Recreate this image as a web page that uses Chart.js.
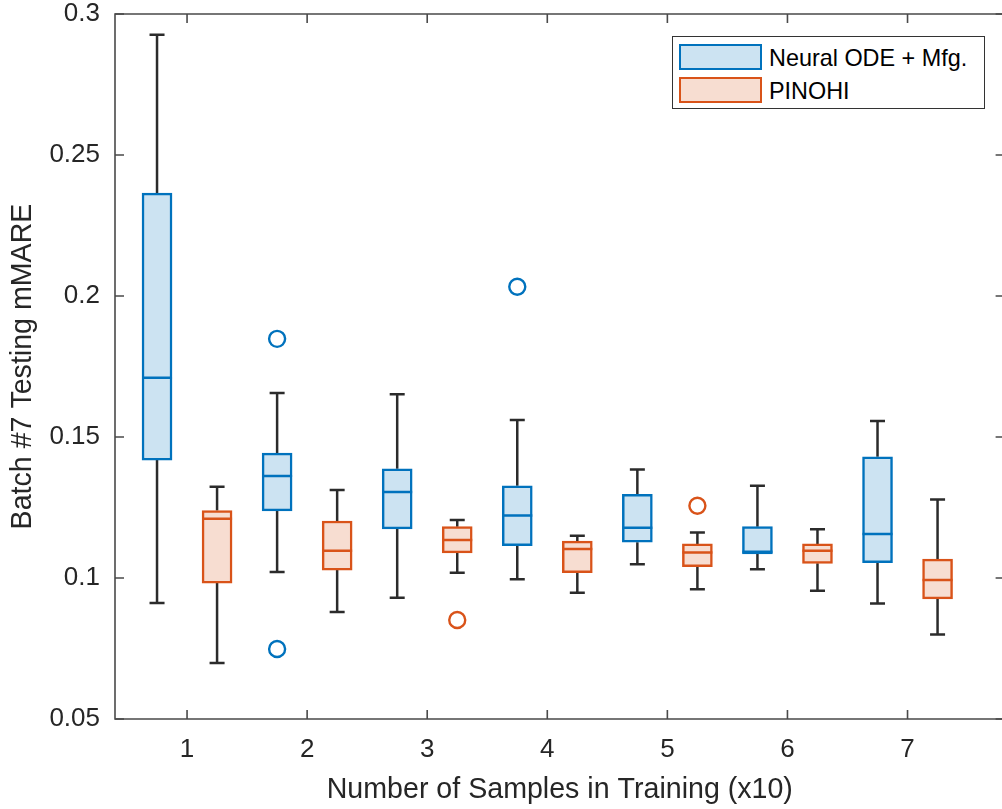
<!DOCTYPE html>
<html>
<head>
<meta charset="utf-8">
<script src="https://cdn.jsdelivr.net/npm/chart.js@4.4.1/dist/chart.umd.min.js"></script>
<style>
  html, body { margin: 0; padding: 0; background: #fff; overflow: hidden; }
  #wrap { position: relative; width: 1015px; height: 809px; }
  #legend {
    position: absolute; left: 672px; top: 36px; width: 313px; height: 73px;
    box-sizing: border-box; border: 1.5px solid #333; background: #fff;
    font-family: "Liberation Sans", Arial, sans-serif; font-size: 23.4px; color: #000;
  }
  .sw { position: absolute; left: 6px; width: 83px; height: 26px; box-sizing: border-box; border: 2px solid; }
  .lt { position: absolute; left: 96px; height: 26px; line-height: 26px; white-space: nowrap; }
</style>
</head>
<body>
<div id="wrap">
  <canvas id="c" width="1015" height="809"></canvas>
  <div id="legend">
    <div class="sw" style="top:7px;border-color:#0072BD;background:#CCE3F2"></div>
    <div class="lt" style="top:8px">Neural ODE + Mfg.</div>
    <div class="sw" style="top:40px;border-color:#D95319;background:#F7DDD1"></div>
    <div class="lt" style="top:41px">PINOHI</div>
  </div>
</div>
<script>
// ---------- data ----------
const groups = [1, 2, 3, 4, 5, 6, 7];
const xTickLabels = ['1', '2', '3', '4', '5', '6', '7'];
const yTicks = [0.05, 0.1, 0.15, 0.2, 0.25, 0.3];

const seriesNames = ['Neural ODE + Mfg.', 'PINOHI'];

// Neural ODE + Mfg.
const neuralLow  = [0.0911, 0.1021, 0.0930, 0.0996, 0.1049, 0.1031, 0.0910];
const neuralQ1   = [0.1418, 0.1238, 0.1174, 0.1115, 0.1127, 0.1085, 0.1054];
const neuralMed  = [0.1710, 0.1362, 0.1305, 0.1222, 0.1178, 0.1093, 0.1156];
const neuralQ3   = [0.2365, 0.1443, 0.1387, 0.1327, 0.1297, 0.1182, 0.1430];
const neuralHigh = [0.2926, 0.1656, 0.1652, 0.1560, 0.1385, 0.1327, 0.1557];
const neuralOutliers = [[], [0.1848, 0.0748], [], [0.2033], [], [], []];

// PINOHI
const pinohiLow  = [0.0699, 0.0879, 0.1019, 0.0948, 0.0960, 0.0955, 0.0800];
const pinohiQ1   = [0.0982, 0.1028, 0.1089, 0.1019, 0.1040, 0.1052, 0.0926];
const pinohiMed  = [0.1210, 0.1097, 0.1135, 0.1103, 0.1090, 0.1097, 0.0993];
const pinohiQ3   = [0.1239, 0.1202, 0.1182, 0.1131, 0.1121, 0.1121, 0.1067];
const pinohiHigh = [0.1324, 0.1312, 0.1206, 0.1150, 0.1161, 0.1173, 0.1278];
const pinohiOutliers = [[], [], [0.0851], [], [0.1256], [], []];

// ---------- layout / style constants ----------
const OFFSET = 0.25;       // group offset of each series
const HALF_BOX = 0.125;    // half box width (x units)
const CAP = 0.0625;        // half whisker cap width (x units)
const BLUE = '#0072BD', BLUE_F = '#CCE3F2';
const ORANGE = '#D95319', ORANGE_F = '#F7DDD1';
const WHISK = '#2b2b2b';
const AXIS = '#4a4a4a';
const TXT = '#262626';
const FONT = '"Liberation Sans", Arial, sans-serif';

function boxes(q1, q3, off) {
  return groups.map((g, i) => ({ x: g + off, y: [q1[i], q3[i]] }));
}
function medians(med, off) {
  const d = [];
  groups.forEach((g, i) => {
    d.push({ x: g + off - HALF_BOX, y: med[i] }, { x: g + off + HALF_BOX, y: med[i] }, { x: g + off, y: null });
  });
  return d;
}
function whiskers(lo, q1, q3, hi, off) {
  const d = [];
  groups.forEach((g, i) => {
    const x = g + off;
    d.push({ x, y: lo[i] }, { x, y: q1[i] }, { x, y: null });
    d.push({ x, y: q3[i] }, { x, y: hi[i] }, { x, y: null });
    d.push({ x: x - CAP, y: lo[i] }, { x: x + CAP, y: lo[i] }, { x, y: null });
    d.push({ x: x - CAP, y: hi[i] }, { x: x + CAP, y: hi[i] }, { x, y: null });
  });
  return d;
}
function outliers(out, off) {
  const d = [];
  groups.forEach((g, i) => out[i].forEach(v => d.push({ x: g + off, y: v })));
  return d;
}

const lineDs = (label, data, color, width, order) => ({
  type: 'scatter', label, data, showLine: true, spanGaps: false,
  borderColor: color, borderWidth: width, pointRadius: 0, pointHoverRadius: 0, order
});

const datasets = [
  lineDs('w1', whiskers(neuralLow, neuralQ1, neuralQ3, neuralHigh, -OFFSET), WHISK, 2.5, 5),
  lineDs('w2', whiskers(pinohiLow, pinohiQ1, pinohiQ3, pinohiHigh, OFFSET), WHISK, 2.5, 5),
  { type: 'bar', label: seriesNames[0], data: boxes(neuralQ1, neuralQ3, -OFFSET),
    backgroundColor: BLUE_F, borderColor: BLUE, borderWidth: 2.5, borderSkipped: false, barThickness: 30, grouped: false, order: 4 },
  { type: 'bar', label: seriesNames[1], data: boxes(pinohiQ1, pinohiQ3, OFFSET),
    backgroundColor: ORANGE_F, borderColor: ORANGE, borderWidth: 2.5, borderSkipped: false, barThickness: 30, grouped: false, order: 4 },
  lineDs('m1', medians(neuralMed, -OFFSET), BLUE, 2.5, 3),
  lineDs('m2', medians(pinohiMed, OFFSET), ORANGE, 2.5, 3),
  { type: 'scatter', label: 'o1', data: outliers(neuralOutliers, -OFFSET), showLine: false,
    pointRadius: 8, pointBorderWidth: 2.4, pointBorderColor: BLUE, pointBackgroundColor: 'rgba(0,0,0,0)', order: 1 },
  { type: 'scatter', label: 'o2', data: outliers(pinohiOutliers, OFFSET), showLine: false,
    pointRadius: 8, pointBorderWidth: 2.4, pointBorderColor: ORANGE, pointBackgroundColor: 'rgba(0,0,0,0)', order: 1 }
];

// frame + inward ticks on all four sides
const framePlugin = {
  id: 'frame',
  afterDraw(chart) {
    const { ctx, chartArea: a, scales: { x, y } } = chart;
    const TL = 9;
    ctx.save();
    ctx.strokeStyle = AXIS;
    ctx.lineWidth = 1.6;
    ctx.beginPath();
    ctx.rect(a.left, a.top, a.right - a.left, a.bottom - a.top);
    ctx.stroke();
    ctx.beginPath();
    x.ticks.forEach(t => {
      const px = x.getPixelForValue(t.value);
      ctx.moveTo(px, a.bottom); ctx.lineTo(px, a.bottom - TL);
      ctx.moveTo(px, a.top); ctx.lineTo(px, a.top + TL);
    });
    y.ticks.forEach(t => {
      const py = y.getPixelForValue(t.value);
      ctx.moveTo(a.left, py); ctx.lineTo(a.left + TL, py);
      ctx.moveTo(a.right, py); ctx.lineTo(a.right - TL, py);
    });
    ctx.stroke();
    ctx.restore();
  }
};

new Chart(document.getElementById('c'), {
  type: 'bar',
  data: { datasets },
  options: {
    responsive: false,
    animation: false,
    events: [],
    layout: { padding: { top: 14, right: 2, left: 0, bottom: 0 } },
    plugins: { legend: { display: false }, tooltip: { enabled: false } },
    scales: {
      x: {
        type: 'linear', min: 0.4, max: 7.8083, offset: false,
        afterBuildTicks: s => { s.ticks = groups.map(v => ({ value: v })); },
        afterFit: s => { s.height = 90; s.paddingLeft = 0; s.paddingRight = 0; },
        grid: { display: false, drawTicks: false, offset: false },
        border: { display: false },
        ticks: { padding: 15, color: TXT, font: { family: FONT, size: 26 },
                 callback: (v, i) => xTickLabels[i], maxRotation: 0, autoSkip: false },
        title: { display: true, text: 'Number of Samples in Training (x10)', color: TXT,
                 font: { family: FONT, size: 28.6 }, padding: { top: 0, bottom: 2 } }
      },
      y: {
        type: 'linear', min: 0.05, max: 0.3,
        afterBuildTicks: s => { s.ticks = yTicks.map(v => ({ value: v })); },
        afterFit: s => { s.width = 115; s.paddingTop = 0; s.paddingBottom = 0; },
        grid: { display: false, drawTicks: false },
        border: { display: false },
        ticks: { padding: 15, color: TXT, font: { family: FONT, size: 26 },
                 callback: v => String(+Number(v).toFixed(2)) },
        title: { display: true, text: 'Batch #7 Testing mMARE', color: TXT,
                 font: { family: FONT, size: 28.6 }, padding: { top: 6, bottom: 0 } }
      }
    }
  },
  plugins: [framePlugin]
});
</script>
</body>
</html>
